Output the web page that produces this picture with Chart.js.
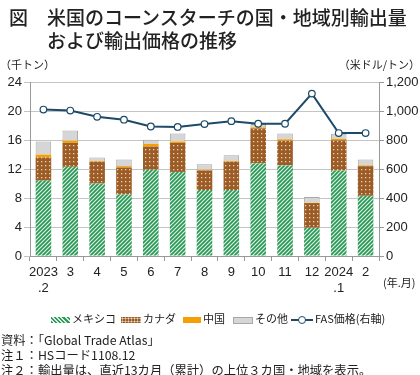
<!DOCTYPE html>
<html><head><meta charset="utf-8">
<script src="https://cdn.jsdelivr.net/npm/chart.js@4"></script>
<style>
html,body{margin:0;padding:0;background:#fff;}
#wrap{position:relative;width:420px;height:375px;overflow:hidden;font-family:"Noto Sans CJK JP","Liberation Sans",sans-serif;color:#222;}
#c{position:absolute;left:0;top:0;}
.t{position:absolute;white-space:nowrap;}
.title{font-size:19px;font-weight:500;line-height:22px;}
.unit{font-size:11px;}
.lg{position:absolute;top:310px;font-size:11px;white-space:nowrap;line-height:16px;}
.sw{display:inline-block;vertical-align:middle;margin-right:2px;}
.note{font-size:12.3px;left:1px;}
</style></head>
<body><div id="wrap">
<canvas id="c" width="420" height="375"></canvas>
<div class="t title" style="left:9px;top:6px;">図</div>
<div class="t title" style="left:47px;top:6px;">米国のコーンスターチの国・地域別輸出量</div>
<div class="t title" style="left:47px;top:29px;">および輸出価格の推移</div>
<div class="t unit" style="left:0px;top:56px;">（千トン）</div>
<div class="t unit" style="right:0px;top:56px;">（米ドル/トン）</div>
<div class="t unit" style="left:383px;top:274px;">(年.月)</div>
<div class="lg" style="left:51px;"><span class="sw" style="width:19px;height:6px;background:repeating-linear-gradient(45deg,#2f9a5a 0 1.5px,#d8f0e0 1.5px 3px);"></span>メキシコ</div>
<div class="lg" style="left:121px;"><span class="sw" style="width:20px;height:6px;background:#9c5c28;background-image:radial-gradient(#f2dcb8 0.9px,transparent 1.1px);background-size:3px 3px;"></span>カナダ</div>
<div class="lg" style="left:183px;"><span class="sw" style="width:18px;height:6px;background:#f5a000;"></span>中国</div>
<div class="lg" style="left:233px;"><span class="sw" style="width:18px;height:5px;background:#d6d6d6;border:1px solid #a8a8a8;"></span>その他</div>
<div class="lg" style="left:291px;"><span class="sw" style="position:relative;width:22px;height:8px;"><span style="position:absolute;left:0;top:3px;width:22px;height:2px;background:#1c4a68;"></span><span style="position:absolute;left:7px;top:0px;width:6px;height:6px;border:1px solid #1c4a68;border-radius:50%;background:#fff;"></span></span>FAS価格(右軸)</div>
<div class="t note" style="top:331px;">資料：「Global Trade Atlas」</div>
<div class="t note" style="top:346px;">注１：HSコード1108.12</div>
<div class="t note" style="top:361px;">注２：輸出量は、直近13カ月（累計）の上位３カ国・地域を表示。</div>
</div>
<script>
const categories = [["2023",".2"],"3","4","5","6","7","8","9","10","11","12",["2024",".1"],"2"];
const mexico = [10.4,12.3,10.0,8.5,11.9,11.6,9.1,9.1,12.8,12.5,3.9,11.8,8.3];
const canada = [3.2,3.3,3.0,3.7,3.2,4.0,2.7,3.9,4.8,3.4,3.4,4.15,4.1];
const china  = [0.4,0.3,0.1,0.2,0.35,0.2,0.1,0.1,0.15,0.2,0.05,0.2,0.1];
const other  = [1.8,1.4,0.5,0.9,0.6,1.1,0.75,0.8,0.45,0.8,0.8,0.7,0.8];
const fasPrice = [1010,1003,960,940,893,890,910,930,912,912,1120,848,848];
const leftTicks = [0,4,8,12,16,20,24];
const rightTicks = [0,200,400,600,800,1000,1200];

function stripePattern(){
  const c=document.createElement('canvas');c.width=4;c.height=4;const x=c.getContext('2d');
  x.fillStyle='#d8f0e0';x.fillRect(0,0,4,4);
  x.strokeStyle='#2a9656';x.lineWidth=1.6;
  x.beginPath();x.moveTo(-1,3);x.lineTo(3,-1);x.moveTo(1,5);x.lineTo(5,1);x.stroke();
  return x.createPattern(c,'repeat');
}
function dotPattern(){
  const c=document.createElement('canvas');c.width=4;c.height=4;const x=c.getContext('2d');
  x.fillStyle='#9c5c28';x.fillRect(0,0,4,4);
  x.fillStyle='#eed4ae';x.fillRect(1,1,1.3,1.3);
  return x.createPattern(c,'repeat');
}
const ctx=document.getElementById('c').getContext('2d');
new Chart(ctx,{
  data:{labels:categories,datasets:[
    {type:'line',label:'FAS価格(右軸)',data:fasPrice,yAxisID:'y1',order:0,borderColor:'#1c4a68',borderWidth:2,pointRadius:3.3,pointBackgroundColor:'#fff',pointBorderColor:'#1c4a68',pointBorderWidth:1.2,tension:0},
    {type:'bar',label:'メキシコ',data:mexico,backgroundColor:stripePattern(),stack:'s',order:1,barPercentage:0.58,categoryPercentage:1},
    {type:'bar',label:'カナダ',data:canada,backgroundColor:dotPattern(),stack:'s',order:1,barPercentage:0.58,categoryPercentage:1},
    {type:'bar',label:'中国',data:china,backgroundColor:'#f5a000',stack:'s',order:1,barPercentage:0.58,categoryPercentage:1},
    {type:'bar',label:'その他',data:other,backgroundColor:'#d6d6d6',borderColor:'#a8a8a8',borderWidth:1,borderSkipped:'bottom',stack:'s',order:1,barPercentage:0.58,categoryPercentage:1}
  ]},
  options:{
    responsive:false,animation:false,
    layout:{padding:{top:82,bottom:0,left:0,right:0}},
    plugins:{legend:{display:false},tooltip:{enabled:false}},
    scales:{
      x:{stacked:true,
        grid:{drawOnChartArea:false,offset:true,tickLength:5,color:'#999'},
        border:{color:'#999'},
        ticks:{color:'#222',font:{family:'Liberation Sans',size:13},maxRotation:0,autoSkip:false,padding:4},
        afterFit:s=>{s.height=119;}},
      y:{stacked:true,min:0,max:24,position:'left',
        afterBuildTicks:s=>{s.ticks=leftTicks.map(v=>({value:v}));},
        grid:{color:'#c4c4c4',tickLength:6},
        border:{color:'#999'},
        ticks:{color:'#222',font:{family:'Liberation Sans',size:13},padding:2},
        afterFit:s=>{s.width=30;}},
      y1:{min:0,max:1200,position:'right',
        afterBuildTicks:s=>{s.ticks=rightTicks.map(v=>({value:v}));},
        grid:{drawOnChartArea:false,tickLength:5,color:'#999'},
        border:{color:'#999'},
        ticks:{color:'#222',font:{family:'Liberation Sans',size:13},padding:2,callback:v=>v.toLocaleString('en-US')},
        afterFit:s=>{s.width=41;}}
    }
  }
});
</script>
</body></html>
